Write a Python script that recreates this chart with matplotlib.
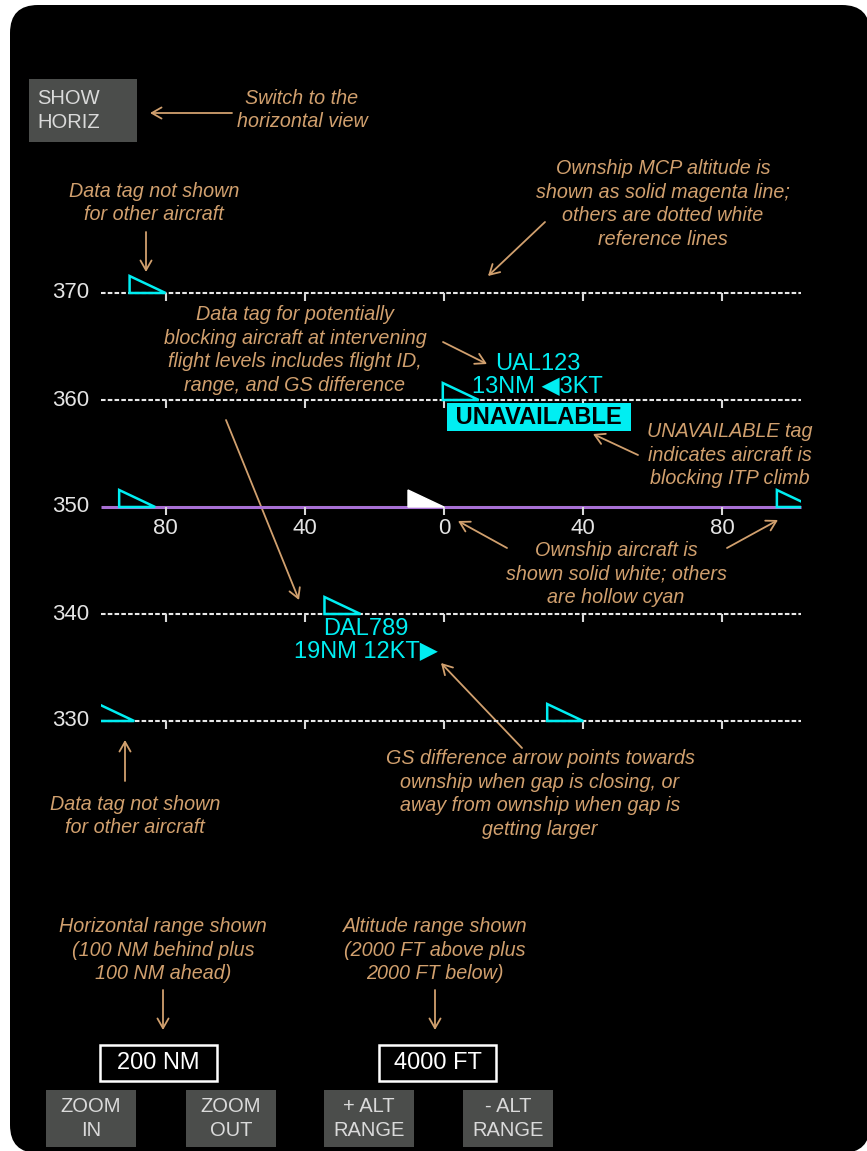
import matplotlib
matplotlib.use('Agg')
import matplotlib.pyplot as plt
from matplotlib.patches import Polygon, Rectangle, FancyBboxPatch

plt.rcParams['font.family'] = ['Liberation Sans', 'DejaVu Sans']

# vertical profile display data
flight_levels = [370, 360, 350, 340, 330]
ownship_fl = 350
ownship_nm = 0

x_ticks = [-80, -40, 0, 40, 80]
x_tick_labels = ['80', '40', '0', '40', '80']

# other traffic (nose position, NM from ownship)
traffic_nm = [-80, 10, -83, 106, -24, -89, 40]
traffic_fl = [370, 360, 350, 350, 340, 330, 330]

# data tags for potentially blocking aircraft
tag_ids = ['UAL123', 'DAL789']
tag_nm = [10, -24]
tag_fl = [360, 340]
tag_range = [13, 19]
tag_gs = [3, 12]
tag_arrow_left = [True, False]
tag_blocking = [True, False]

range_label = '200 NM'
alt_label = '4000 FT'

W, H = 867, 1151
PX_NM = 3.48
X0 = 444
PX_FL = 10.7
Y0 = 507
LINE_X = (-98.5, 102.5)

TAN = '#D1A06E'
CYAN = '#00EEF2'
MAGENTA = '#A870D4'
GREY_TXT = '#E4E4E4'
BTN = '#4B4D4B'

fig = plt.figure(figsize=(W / 100, H / 100), dpi=100)
fig.patch.set_facecolor('white')

# pixel-space layer for panel, buttons and callouts
bg = fig.add_axes([0, 0, 1, 1])
bg.set_xlim(0, W)
bg.set_ylim(H, 0)
bg.axis('off')
bg.add_patch(FancyBboxPatch((10, 5), 860, 1148, boxstyle='round,pad=0,rounding_size=28',
                            fc='black', ec='none'))

# data layer: NM horizontally, flight level vertically
ax = fig.add_axes([0, 0, 1, 1])
ax.patch.set_alpha(0)
ax.set_xlim(-X0 / PX_NM, (W - X0) / PX_NM)
ax.set_ylim(ownship_fl - (H - Y0) / PX_FL, ownship_fl + Y0 / PX_FL)
ax.axis('off')

for fl in flight_levels:
    if fl == ownship_fl:
        ax.plot(LINE_X, [fl, fl], color=MAGENTA, lw=2.2, solid_capstyle='butt', zorder=2)
    else:
        ax.plot(LINE_X, [fl, fl], color='#E8E8E8', lw=1.5, linestyle=(0, (2.2, 1.05)), zorder=2)
    ax.vlines(x_ticks, fl - 0.75, fl, color='#D8D8D8', lw=1.5, zorder=2)
    ax.annotate(str(fl), xy=(LINE_X[0], fl), xytext=(-12, 0), textcoords='offset pixels',
                ha='right', va='center', fontsize=16, color=GREY_TXT)

for x, lab in zip(x_ticks, x_tick_labels):
    ax.annotate(lab, xy=(x, ownship_fl), xytext=(0, -21), textcoords='offset pixels',
                ha='center', va='center', fontsize=16, color=GREY_TXT)

tri_w = 36 / PX_NM
tri_h = 17 / PX_FL
clip = Rectangle((LINE_X[0], 280), LINE_X[1] - LINE_X[0], 120, transform=ax.transData)

for nm, fl in zip(traffic_nm, traffic_fl):
    p = Polygon([(nm - tri_w, fl), (nm - tri_w, fl + tri_h), (nm, fl)], closed=True,
                fill=False, ec=CYAN, lw=1.8, zorder=4)
    ax.add_patch(p)
    p.set_clip_path(clip)

ax.add_patch(Polygon([(ownship_nm - tri_w, ownship_fl), (ownship_nm - tri_w, ownship_fl + tri_h),
                      (ownship_nm, ownship_fl)], closed=True, fc='white', ec='white', lw=1, zorder=4))

for fid, nm, fl, rng, gs, left, blk in zip(tag_ids, tag_nm, tag_fl, tag_range, tag_gs,
                                           tag_arrow_left, tag_blocking):
    line2 = f'{rng}NM \u25c0{gs}KT' if left else f'{rng}NM {gs}KT\u25b6'
    if blk:
        ax.annotate(fid + '\n' + line2, xy=(nm, fl), xytext=(59, 25), textcoords='offset pixels',
                    ha='center', va='center', fontsize=17, color=CYAN, linespacing=1.0)
        ax.annotate(' UNAVAILABLE ', xy=(nm, fl), xytext=(60, -17), textcoords='offset pixels',
                    ha='center', va='center', fontsize=17, color='black', fontweight='bold',
                    bbox=dict(boxstyle='square,pad=0.1', fc=CYAN, ec='none'))
    else:
        ax.annotate(fid + '\n' + line2, xy=(nm, fl), xytext=(5, -26), textcoords='offset pixels',
                    ha='center', va='center', fontsize=17, color=CYAN, linespacing=1.0)

# buttons
def button(x0, y0, x1, y1, text, ha='center'):
    bg.add_patch(Rectangle((x0, y0), x1 - x0, y1 - y0, fc=BTN, ec='none'))
    tx = (x0 + x1) / 2 if ha == 'center' else x0 + 8
    bg.text(tx, (y0 + y1) / 2, text, ha=ha, va='center', fontsize=14.5, color='#DADADA',
            linespacing=1.3)

button(29, 79, 137, 142, 'SHOW\nHORIZ', ha='left')
button(46, 1090, 136, 1147, 'ZOOM\nIN')
button(186, 1090, 276, 1147, 'ZOOM\nOUT')
button(324, 1090, 414, 1147, '+ ALT\nRANGE')
button(463, 1090, 553, 1147, '- ALT\nRANGE')

for x0, x1, lab in [(100, 217, range_label), (379, 496, alt_label)]:
    bg.add_patch(Rectangle((x0, 1045), x1 - x0, 36, fc='black', ec='white', lw=1.8))
    bg.text((x0 + x1) / 2, 1063, lab, ha='center', va='center', fontsize=17, color='white')

# callout notes
notes = [
    (302, 110, 'Switch to the\nhorizontal view'),
    (154, 203, 'Data tag not shown\nfor other aircraft'),
    (663, 204, 'Ownship MCP altitude is\nshown as solid magenta line;\nothers are dotted white\nreference lines'),
    (295, 350, 'Data tag for potentially\nblocking aircraft at intervening\nflight levels includes flight ID,\nrange, and GS difference'),
    (730, 455, 'UNAVAILABLE tag\nindicates aircraft is\nblocking ITP climb'),
    (616, 574, 'Ownship aircraft is\nshown solid white; others\nare hollow cyan'),
    (540, 794, 'GS difference arrow points towards\nownship when gap is closing, or\naway from ownship when gap is\ngetting larger'),
    (135, 816, 'Data tag not shown\nfor other aircraft'),
    (163, 950, 'Horizontal range shown\n(100 NM behind plus\n100 NM ahead)'),
    (435, 950, 'Altitude range shown\n(2000 FT above plus\n2000 FT below)'),
]
for x, y, t in notes:
    bg.text(x, y, t, ha='center', va='center', fontsize=14.2, style='italic', color=TAN,
            linespacing=1.33, zorder=5)

arrows = [
    ((232, 113), (150, 113)),
    ((146, 232), (146, 272)),
    ((545, 222), (488, 276)),
    ((443, 342), (487, 364)),
    ((226, 420), (299, 600)),
    ((638, 455), (593, 434)),
    ((507, 548), (458, 521)),
    ((727, 548), (778, 520)),
    ((522, 748), (441, 663)),
    ((125, 781), (125, 740)),
    ((163, 990), (163, 1030)),
    ((435, 990), (435, 1030)),
]
for tail, head in arrows:
    bg.annotate('', xy=head, xytext=tail,
                arrowprops=dict(arrowstyle='->,head_length=0.7,head_width=0.4', color=TAN,
                                lw=1.3, shrinkA=0, shrinkB=0), zorder=5)

fig.savefig('out.png', dpi=100, facecolor='white')
